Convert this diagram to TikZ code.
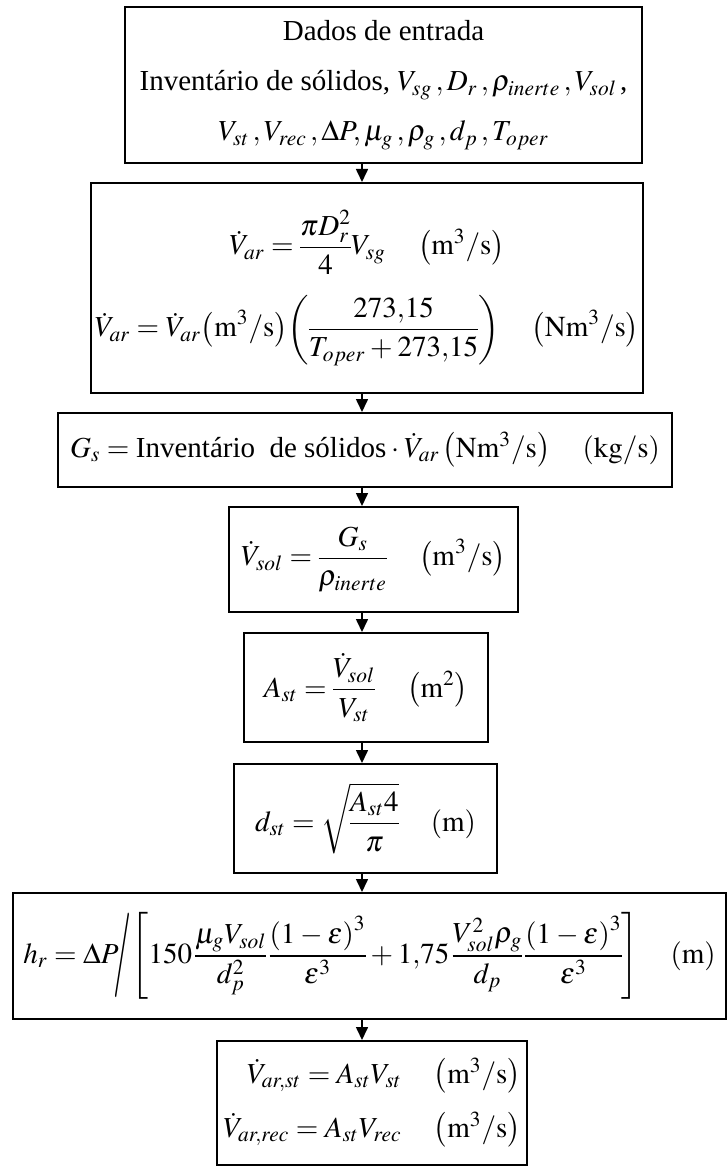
\documentclass[tikz,border=0pt]{standalone}
\usepackage{mathptmx}
\usepackage{graphicx}
\usepackage{fontspec}
\setmainfont{Liberation Serif}
\usetikzlibrary{arrows.meta}
\thickmuskip=4mu plus 2mu minus 2mu
\medmuskip=3mu plus 1mu minus 2mu
\nulldelimiterspace=0pt
\newcommand{\bigslash}{\mkern-3mu\mathord{\vcenter{\hbox{\resizebox*{0.62em}{2.9em}{$/$}}}}\mkern-2mu}
\begin{document}
\begin{tikzpicture}[x=0.5pt,y=-0.5pt,
  box/.style={draw,line width=1pt,inner sep=0pt,align=center,font=\fontsize{14.5}{22}\selectfont},
  arr/.style={line width=0.8pt,-{Triangle[length=6.5pt,width=6pt]}}]
\useasboundingbox (0,0) rectangle (727,1166);
\coordinate (ax) at (362,0);
\node[box,minimum width=258.5pt,minimum height=78pt] (b1) at (383.5,85)
  {Dados de entrada\\[3pt]
   Inventário de sólidos, $V_{sg}\,,D_r\,,\rho_{inerte}\,,V_{sol}\,$,\\[3pt]
   $V_{st}\,,V_{rec}\,,\Delta P,\mu_g\,,\rho_g\,,d_p\,,T_{oper}$};
\node[box,minimum width=276pt,minimum height=105pt] (b2) at (367,288)
  {$\displaystyle \dot V_{ar}=\frac{\pi D_r^2}{4}V_{sg}\quad\left(\mathrm{m^3/s}\right)$\\[9pt]
   $\displaystyle \dot V_{ar}=\dot V_{ar}\!\left(\mathrm{m^3/s}\right)\!\left(\frac{273{,}15}{T_{oper}+273{,}15}\right)\quad\left(\mathrm{Nm^3/s}\right)$};
\node[box,minimum width=307pt,minimum height=37pt] (b3) at (365,450)
  {$G_s=\mbox{Inventário\ \ de sólidos}\cdot\dot V_{ar}\left(\mathrm{Nm^3/s}\right)\quad\left(\mathrm{kg/s}\right)$};
\node[box,minimum width=144.5pt,minimum height=52.5pt] (b4) at (373.5,559.5)
  {$\displaystyle \dot V_{sol}=\frac{G_s}{\rho_{inerte}}\quad\left(\mathrm{m^3/s}\right)$};
\node[box,minimum width=122pt,minimum height=54.5pt] (b5) at (366,687.5)
  {$\displaystyle A_{st}=\frac{\dot V_{sol}}{V_{st}}\quad\left(\mathrm{m^2}\right)$};
\node[box,minimum width=131.5pt,minimum height=54.5pt] (b6) at (365.5,818.5)
  {$\displaystyle d_{st}=\sqrt{\frac{A_{st}4}{\pi}}\quad\left(\mathrm{m}\right)$};
\node[box,minimum width=356.5pt,minimum height=63pt] (b7) at (369.5,956)
  {$\displaystyle h_r=\Delta P\bigslash\left[150\,\frac{\mu_gV_{sol}}{d_p^2}\,\frac{\left(1-\varepsilon\right)^3}{\varepsilon^3}+1{,}75\,\frac{V_{sol}^2\rho_g}{d_p}\,\frac{\left(1-\varepsilon\right)^3}{\varepsilon^3}\right]\quad\left(\mathrm{m}\right)$};
\node[box,align=right,minimum width=155pt,minimum height=62pt] (b8) at (372,1103)
  {$\dot V_{ar,st}=A_{st}V_{st}\quad\left(\mathrm{m^3/s}\right)$\\[5pt]
   $\dot V_{ar,rec}=A_{st}V_{rec}\quad\left(\mathrm{m^3/s}\right)$};
\draw[arr] (b1.south -| ax) -- (b2.north -| ax);
\draw[arr] (b2.south -| ax) -- (b3.north -| ax);
\draw[arr] (b3.south -| ax) -- (b4.north -| ax);
\draw[arr] (b4.south -| ax) -- (b5.north -| ax);
\draw[arr] (b5.south -| ax) -- (b6.north -| ax);
\draw[arr] (b6.south -| ax) -- (b7.north -| ax);
\draw[arr] (b7.south -| ax) -- (b8.north -| ax);
\end{tikzpicture}
\end{document}
